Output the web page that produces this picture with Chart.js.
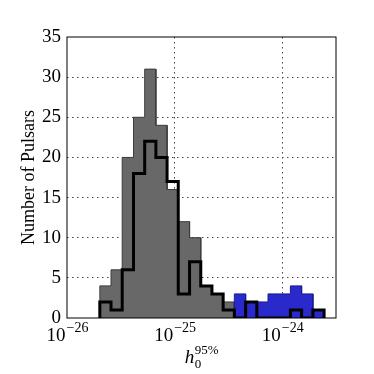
<!DOCTYPE html>
<html>
<head>
<meta charset="utf-8">
<script src="https://cdn.jsdelivr.net/npm/chart.js@4.4.1/dist/chart.umd.min.js"></script>
<style>
    html, body { margin: 0; padding: 0; background: #fff; }
    #wrap { width: 374px; height: 374px; }
</style>
</head>
<body>
<div id="wrap"><canvas id="histChart" width="374" height="374"></canvas></div>
<script>
// Histogram bin edges (log-spaced)
const binEdges = [2.018e-26, 2.564e-26, 3.258e-26, 4.150e-26, 5.272e-26, 6.699e-26, 8.511e-26,
    1.081e-25, 1.377e-25, 1.750e-25, 2.223e-25, 2.825e-25, 3.589e-25, 4.571e-25, 5.808e-25,
    7.379e-25, 9.376e-25, 1.191e-24, 1.514e-24, 1.928e-24, 2.449e-24];

// Gray bars cover the first 12 bins, blue bars the last 8
const grayCounts = [4, 6, 20, 25, 31, 24, 16, 12, 10, 4, 3, 2];
const blueCounts = [3, 2, 2, 3, 3, 4, 3, 1];
// Black outline histogram over all 20 bins
const blackCounts = [2, 1, 6, 18, 22, 20, 17, 3, 7, 4, 3, 1, 0, 2, 0, 0, 0, 1, 0, 1];

const xTickValues = [1e-26, 1e-25, 1e-24];
const xTickExponents = ['\u221226', '\u221225', '\u221224'];
const yTickValues = [0, 5, 10, 15, 20, 25, 30, 35];

const SERIF = "'Liberation Serif', 'DejaVu Serif', serif";

// corners of a histogram outline from edges + counts
function stepPoints(edges, counts) {
    const pts = [{ x: edges[0], y: 0 }];
    counts.forEach((c, i) => {
        pts.push({ x: edges[i], y: c });
        pts.push({ x: edges[i + 1], y: c });
    });
    pts.push({ x: edges[counts.length], y: 0 });
    return pts;
}

const grayEdges = binEdges.slice(0, grayCounts.length + 1);
const blueEdges = binEdges.slice(grayCounts.length);

// box, x tick labels and x title
const decorations = {
    id: 'decorations',
    afterDraw(chart) {
        const ctx = chart.ctx;
        const area = chart.chartArea;
        const xs = chart.scales.x;
        ctx.save();
        ctx.strokeStyle = '#000';
        ctx.lineWidth = 1;
        ctx.strokeRect(area.left, area.top, area.right - area.left, area.bottom - area.top);

        ctx.fillStyle = '#000';
        ctx.textBaseline = 'alphabetic';
        ctx.textAlign = 'left';
        xTickValues.forEach((v, i) => {
            const px = xs.getPixelForValue(v);
            ctx.font = '19px ' + SERIF;
            const wBase = ctx.measureText('10').width;
            ctx.font = '14px ' + SERIF;
            const wExp = ctx.measureText(xTickExponents[i]).width;
            const start = px - (wBase + wExp) / 2;
            ctx.font = '19px ' + SERIF;
            ctx.fillText('10', start, 341);
            ctx.font = '14px ' + SERIF;
            ctx.fillText(xTickExponents[i], start + wBase + 1, 332);
        });

        // x axis title: h_0^{95%}
        const cx = (area.left + area.right) / 2;
        ctx.font = 'italic 19px ' + SERIF;
        const wh = ctx.measureText('h').width;
        ctx.font = '13px ' + SERIF;
        const wSup = ctx.measureText('95%').width;
        const sx = cx - (wh + wSup) / 2;
        ctx.font = 'italic 19px ' + SERIF;
        ctx.fillText('h', sx, 363);
        ctx.font = '13px ' + SERIF;
        ctx.fillText('0', sx + wh + 0.5, 368);
        ctx.fillText('95%', sx + wh + 0.5, 354);
        ctx.restore();
    }
};

const gridColor = (edgeValues) => (c) => edgeValues.includes(c.tick.value) ? 'rgba(0,0,0,0)' : '#444';

new Chart(document.getElementById('histChart').getContext('2d'), {
    type: 'scatter',
    data: {
        datasets: [
            {
                label: 'outline',
                data: stepPoints(binEdges, blackCounts),
                showLine: true,
                borderColor: '#000',
                borderWidth: 3,
                borderJoinStyle: 'miter',
                pointRadius: 0,
                fill: false,
                order: 0
            },
            {
                label: 'blue',
                data: stepPoints(blueEdges, blueCounts),
                showLine: true,
                borderColor: '#1a1a8c',
                borderWidth: 1,
                backgroundColor: '#2a2acc',
                pointRadius: 0,
                fill: 'origin',
                order: 1
            },
            {
                label: 'gray',
                data: stepPoints(grayEdges, grayCounts),
                showLine: true,
                borderColor: '#3c3c3c',
                borderWidth: 1,
                backgroundColor: '#686868',
                pointRadius: 0,
                fill: 'origin',
                order: 2
            }
        ]
    },
    options: {
        responsive: false,
        animation: false,
        layout: { padding: { left: 0, top: 37, right: 38, bottom: 0 } },
        plugins: {
            legend: { display: false },
            tooltip: { enabled: false },
            title: { display: false }
        },
        scales: {
            x: {
                type: 'logarithmic',
                min: 1e-26,
                max: 3.16e-24,
                afterBuildTicks: (scale) => { scale.ticks = xTickValues.map(v => ({ value: v })); },
                afterFit: (scale) => { scale.height = 56; },
                ticks: { display: false },
                grid: { color: gridColor([1e-26]), lineWidth: 1, drawTicks: false },
                border: { display: false, dash: [1.5, 3.5] }
            },
            y: {
                min: 0,
                max: 35,
                afterBuildTicks: (scale) => { scale.ticks = yTickValues.map(v => ({ value: v })); },
                afterFit: (scale) => { scale.width = 67; },
                ticks: {
                    color: '#000',
                    padding: 6,
                    font: { family: SERIF, size: 19 }
                },
                grid: { color: gridColor([0, 35]), lineWidth: 1, drawTicks: false },
                border: { display: false, dash: [1.5, 3.5] },
                title: {
                    display: true,
                    text: 'Number of Pulsars',
                    color: '#000',
                    font: { family: SERIF, size: 18 },
                    padding: { top: 18, bottom: 0 }
                }
            }
        }
    },
    plugins: [decorations]
});
</script>
</body>
</html>
